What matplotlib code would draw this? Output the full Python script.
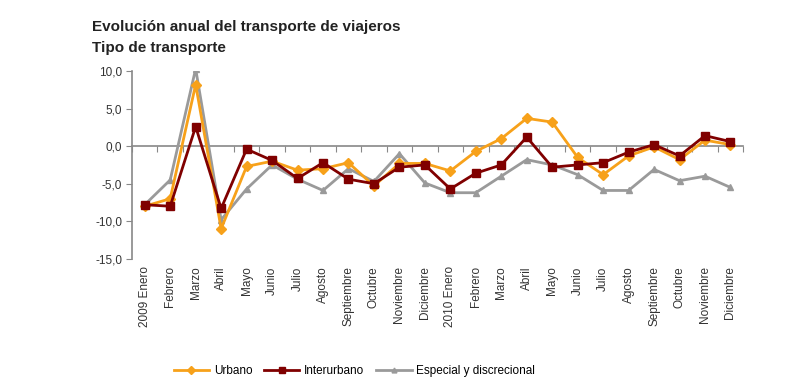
import matplotlib
matplotlib.use("Agg")
import matplotlib.pyplot as plt
from matplotlib.ticker import FixedLocator, FuncFormatter

plt.rcParams["font.family"] = ["Liberation Sans", "DejaVu Sans"]

MESES = ["Enero", "Febrero", "Marzo", "Abril", "Mayo", "Junio", "Julio",
         "Agosto", "Septiembre", "Octubre", "Noviembre", "Diciembre"]
labels = ["2009 Enero"] + MESES[1:] + ["2010 Enero"] + MESES[1:]

urbano = [-8.0, -7.0, 8.2, -11.0, -2.7, -2.0, -3.2, -3.0, -2.2, -5.3, -2.3, -2.3,
          -3.3, -0.7, 1.0, 3.7, 3.2, -1.5, -3.8, -1.3, -0.1, -1.8, 0.8, 0.2]
interurbano = [-7.8, -8.0, 2.6, -8.3, -0.4, -1.9, -4.3, -2.2, -4.4, -5.0, -2.8, -2.5,
               -5.7, -3.6, -2.5, 1.2, -2.8, -2.5, -2.2, -0.8, 0.2, -1.3, 1.4, 0.6]
especial = [-7.8, -4.5, 10.3, -9.8, -5.7, -2.5, -4.4, -5.9, -3.0, -4.7, -1.0, -4.9,
            -6.2, -6.2, -4.0, -1.8, -2.5, -3.8, -5.9, -5.9, -3.1, -4.6, -4.0, -5.5]

ORANGE = "#F7A11A"
DARKRED = "#800000"
GRAY = "#9A9A9A"

fig = plt.figure(figsize=(8.0, 3.84), dpi=100)
ax = fig.add_axes([0.165, 0.326, 0.764, 0.489])
x = list(range(len(labels)))

ax.plot(x, especial, color=GRAY, lw=2.0, marker="^", ms=5,
        label="Especial y discrecional", zorder=3)
ax.plot(x, urbano, color=ORANGE, lw=2.0, marker="D", ms=5.5,
        label="Urbano", zorder=4)
ax.plot(x, interurbano, color=DARKRED, lw=2.0, marker="s", ms=5.5,
        label="Interurbano", zorder=5)

ax.set_xlim(-0.5, len(labels) - 0.5)
ax.set_ylim(-15, 10)
ax.set_yticks([-15, -10, -5, 0, 5, 10])
ax.yaxis.set_major_formatter(FuncFormatter(lambda v, _: f"{v:.1f}".replace(".", ",")))
ax.tick_params(axis="y", labelsize=8.5, colors="#333333", length=4,
               color="#888888", pad=3)

# category axis drawn along the zero line, ticks between categories
for s in ("top", "right"):
    ax.spines[s].set_visible(False)
ax.spines["left"].set_color("#888888")
ax.spines["left"].set_linewidth(1.2)
ax.spines["bottom"].set_position(("data", 0))
ax.spines["bottom"].set_color("#888888")
ax.spines["bottom"].set_linewidth(1.2)
ax.xaxis.set_major_locator(FixedLocator([i + 0.5 for i in range(-1, len(labels))]))
ax.set_xticklabels([])
ax.tick_params(axis="x", length=4, color="#888888", direction="out")

for i, lab in enumerate(labels):
    ax.text(i, -0.04, lab, transform=ax.get_xaxis_transform(), rotation=90,
            ha="center", va="top", fontsize=8.5, color="#333333")

fig.text(0.115, 0.93, "Evolución anual del transporte de viajeros",
         fontsize=11, fontweight="bold", color="#222222", va="center")
fig.text(0.115, 0.876, "Tipo de transporte",
         fontsize=11, fontweight="bold", color="#222222", va="center")

h, l = ax.get_legend_handles_labels()
order = [1, 2, 0]
fig.legend([h[k] for k in order], [l[k] for k in order], loc="center",
           bbox_to_anchor=(0.443, 0.034), ncol=3, frameon=False, fontsize=8.5,
           handlelength=3.0, handletextpad=0.4, columnspacing=1.0,
           markerscale=0.7)

fig.savefig("out.png", dpi=100)
